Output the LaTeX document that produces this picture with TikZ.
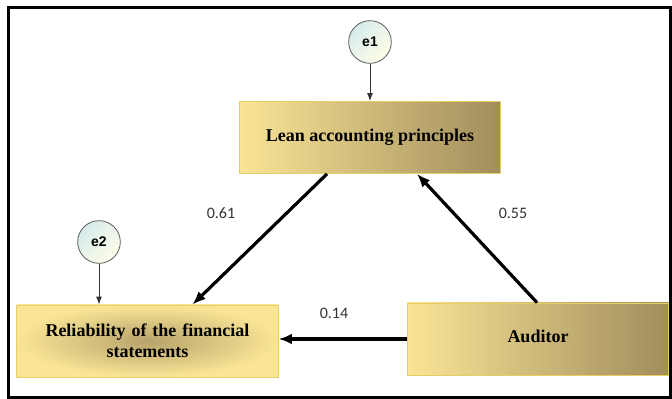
\documentclass[tikz,border=0pt]{standalone}
\usepackage{fontspec}
\setmainfont{Liberation Serif}
\setsansfont{Liberation Sans}
\newfontfamily\lblfont{Carlito}
\usetikzlibrary{positioning, arrows.meta, calc}

\definecolor{boxlight}{RGB}{250,229,150}
\definecolor{boxdark}{RGB}{160,141,92}
\definecolor{boxedge}{RGB}{232,204,100}
\definecolor{errlight}{RGB}{214,236,236}
\definecolor{errcream}{RGB}{255,252,232}

\begin{document}
\begin{tikzpicture}[
        x=0.75pt, y=-0.75pt,
        var/.style={
            draw=boxedge, line width=0.6pt, left color=boxlight, right color=boxdark,
            minimum width=196pt, minimum height=54pt, inner sep=2pt,
            font=\fontsize{13.5}{15.5}\selectfont\bfseries, align=center
        },
        err/.style={
            circle, draw=black!65, line width=0.6pt, minimum size=32pt, inner sep=0pt,
            top color=errlight, bottom color=errcream, shading angle=45,
            font=\sffamily\bfseries\fontsize{10.5}{12}\selectfont
        },
        coef/.style={font=\lblfont\fontsize{12}{14}\selectfont, text=black!80},
        arr/.style={-{Latex[length=10pt,width=8pt]}, line width=2.4pt},
        earr/.style={-{Latex[length=6pt,width=4.5pt]}, line width=0.7pt, black!80}
    ]
    \useasboundingbox (0,0) rectangle (672,399);
    \draw[line width=2.2pt] (8.5,7.5) rectangle (670.5,397.5);

    \node[var] (lean) at (370,137.5) {Lean accounting principles};
    \node[var, inner color=boxdark!75!boxlight, outer color=boxlight,
          text width=192pt] (rel) at (147.5,341) {Reliability of the financial\\statements};
    \node[var] (aud) at (538,339) {\raisebox{4pt}{Auditor}};

    \node[err] (e1) at (370,42) {e1};
    \node[err] (e2) at (99,242) {e2};

    \draw[earr] (e1) -- (lean.north);
    \draw[earr] (e2) -- (e2 |- rel.north);

    \draw[arr] ($(lean.south)+(-43,0)$) -- ($(rel.north)+(45,0)$);
    \draw[arr] ($(aud.north)+(-1,0)$) -- ($(lean.south)+(47,0)$);
    \draw[arr] (aud.west) -- (aud.west -| rel.east);

    \node[coef] (c1) at (221,213) {0.61};
    \node[coef] (c2) at (513,213) {0.55};
    \node[coef] (c3) at (334,313) {0.14};
\end{tikzpicture}
\end{document}
